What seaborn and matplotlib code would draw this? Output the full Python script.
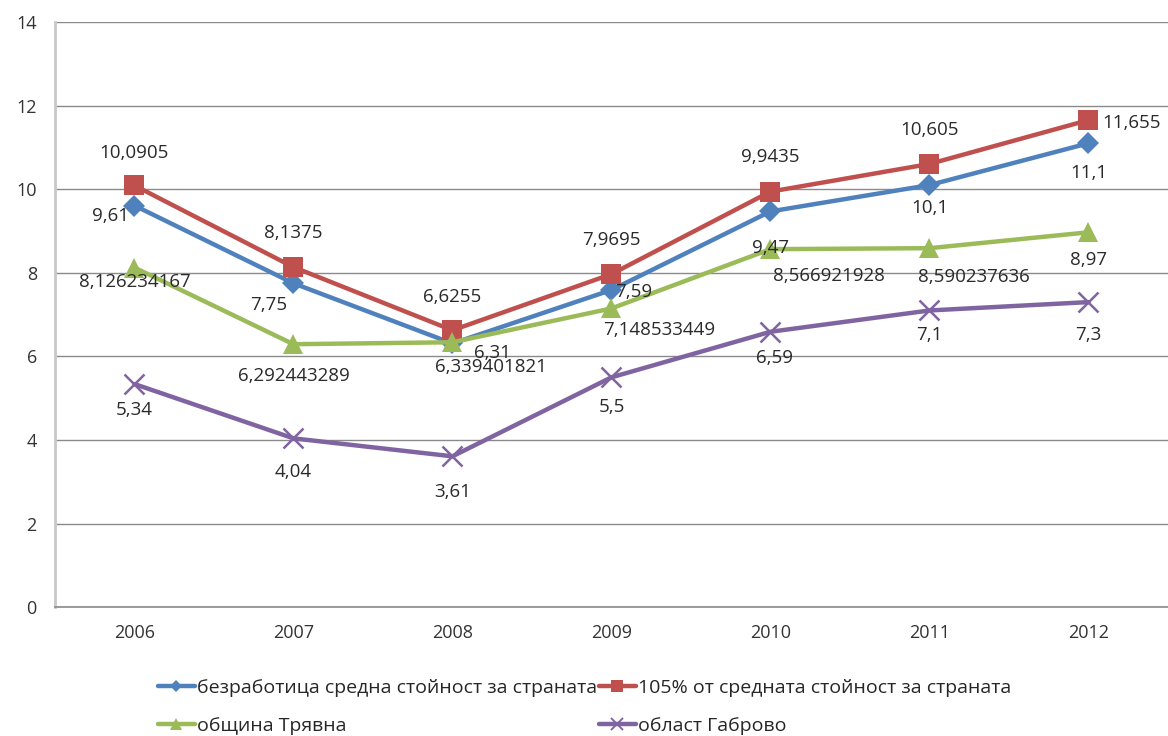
import matplotlib
matplotlib.use("Agg")
import matplotlib.pyplot as plt
import pandas as pd
import seaborn as sns

# data
years = ["2006", "2007", "2008", "2009", "2010", "2011", "2012"]
national_avg = [9.61, 7.75, 6.31, 7.59, 9.47, 10.1, 11.1]
national_105 = [10.0905, 8.1375, 6.6255, 7.9695, 9.9435, 10.605, 11.655]
tryavna = [8.126234167, 6.292443289, 6.339401821, 7.148533449, 8.566921928, 8.590237636, 8.97]
gabrovo = [5.34, 4.04, 3.61, 5.5, 6.59, 7.1, 7.3]

names = [
    "безработица средна стойност за страната",
    "105% от средната стойност за страната",
    "община Трявна",
    "област Габрово",
]
series = [national_avg, national_105, tryavna, gabrovo]

colors = ["#4F81BD", "#C0504D", "#9BBB59", "#8064A2"]
markers = ["D", "s", "^", "x"]
msizes = [11, 14, 15, 14]

# label offsets in pixels (style only)
offsets = [
    [(-24, -10), (-25, -22), (40, -10), (22, -2), (0, -37), (0, -23), (0, -30)],
    [(0, 32), (0, 34), (0, 33), (0, 34), (0, 35), (0, 34), (43, -3)],
    [(0, -14), (0, -32), (39, -25), (48, -22), (58, -27), (44, -29), (0, -28)],
    [(0, -26), (0, -34), (0, -36), (0, -30), (4, -26), (0, -25), (0, -33)],
]

sns.set_style("white")
plt.rcParams["font.family"] = ["Open Sans", "DejaVu Sans"]

fig = plt.figure(figsize=(11.68, 7.36), dpi=100)
ax = fig.add_axes([0.047, 0.175, 0.953, 0.795])

for name, vals, c, m, ms in zip(names, series, colors, markers, msizes):
    df = pd.DataFrame({"pos": range(len(years)), "value": vals})
    sns.lineplot(
        data=df, x="pos", y="value", color=c, marker=m, markersize=ms,
        markeredgewidth=(1.8 if m == "x" else 0), markeredgecolor=c,
        linewidth=3.2, ax=ax, label=name, legend=False,
    )

for vals, offs in zip(series, offsets):
    for i, (v, o) in enumerate(zip(vals, offs)):
        ax.annotate(str(v).replace(".", ","), (i, v), xytext=o,
                    textcoords="offset pixels", ha="center", va="center",
                    fontsize=13.5, color="#2a2a2a")

ax.set_xlim(-0.5, 6.5)
ax.set_ylim(0, 14)
ax.set_yticks(range(0, 15, 2))
ax.set_xticks(range(len(years)))
ax.set_xticklabels(years)
ax.set_xticks([x - 0.5 for x in range(len(years) + 1)], minor=True)
ax.grid(axis="y", color="#8a8a8a", linewidth=1)
ax.set_axisbelow(True)
ax.set_xlabel("")
ax.set_ylabel("")
for s in ["top", "right"]:
    ax.spines[s].set_visible(False)
ax.spines["left"].set_color("#c8c8c8")
ax.spines["left"].set_linewidth(2)
ax.spines["bottom"].set_color("#8a8a8a")
ax.spines["bottom"].set_linewidth(1.2)
ax.tick_params(axis="x", which="major", length=0, pad=12, labelsize=13, colors="#333333")
ax.tick_params(axis="x", which="minor", length=5, color="#bbbbbb", width=1.2)
ax.tick_params(axis="y", length=5, color="#8a8a8a", pad=8, labelsize=13, labelcolor="#333333")

handles = [
    plt.Line2D([], [], color=c, marker=m, markersize=ms * 0.6, linewidth=3.2,
               markeredgewidth=(1.4 if m == "x" else 0))
    for c, m, ms in zip(colors, markers, msizes)
]
order = [0, 2, 1, 3]
fig.legend([handles[i] for i in order], [names[i] for i in order],
           loc="upper left", bbox_to_anchor=(0.135, 0.078),
           ncol=2, frameon=False, fontsize=14, handlelength=1.9,
           handletextpad=0.1, columnspacing=0.1, labelspacing=1.05,
           borderpad=0, borderaxespad=0)

fig.savefig("out.png", dpi=100)
